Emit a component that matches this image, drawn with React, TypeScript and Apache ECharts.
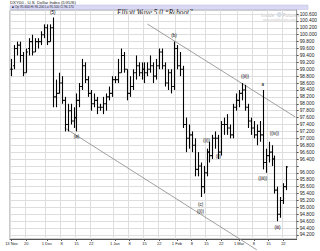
import { useEffect, useRef } from 'react';
import * as echarts from 'echarts';

const dates = [
  'Nov 13', 'Nov 16', 'Nov 17', 'Nov 18', 'Nov 19', 'Nov 20', 'Nov 23', 'Nov 24', 'Nov 25', 'Nov 26', 'Nov 27', 'Nov 30',
  'Dec 1', 'Dec 2', 'Dec 3', 'Dec 4', 'Dec 7', 'Dec 8', 'Dec 9', 'Dec 10', 'Dec 11', 'Dec 14', 'Dec 15', 'Dec 16', 'Dec 17', 'Dec 18', 'Dec 21', 'Dec 22', 'Dec 23', 'Dec 24', 'Dec 25', 'Dec 28', 'Dec 29', 'Dec 30', 'Dec 31',
  'Jan 1', 'Jan 4', 'Jan 5', 'Jan 6', 'Jan 7', 'Jan 8', 'Jan 11', 'Jan 12', 'Jan 13', 'Jan 14', 'Jan 15', 'Jan 18', 'Jan 19', 'Jan 20', 'Jan 21', 'Jan 22', 'Jan 25', 'Jan 26', 'Jan 27', 'Jan 28', 'Jan 29',
  'Feb 1', 'Feb 2', 'Feb 3', 'Feb 4', 'Feb 5', 'Feb 8', 'Feb 9', 'Feb 10', 'Feb 11', 'Feb 12', 'Feb 15', 'Feb 16', 'Feb 17', 'Feb 18', 'Feb 19', 'Feb 22', 'Feb 23', 'Feb 24', 'Feb 25', 'Feb 26', 'Feb 29',
  'Mar 1', 'Mar 2', 'Mar 3', 'Mar 4', 'Mar 7', 'Mar 8', 'Mar 9', 'Mar 10', 'Mar 11', 'Mar 14', 'Mar 15', 'Mar 16', 'Mar 17', 'Mar 18', 'Mar 21', 'Mar 22', 'Mar 23',
];
const futureDates = ['Mar 24', 'Mar 25', 'Mar 28'];

const opens = [
  99.0, 99.1, 99.6, 99.7, 99.4, 98.9, 99.6, 99.8, 99.5, 99.8, 99.8, 100.0,
  100.2, 99.8, 100.2, 98.2, 98.3, 98.6, 98.1, 97.4, 97.8, 97.5, 97.6, 98.1, 98.5, 99.1, 98.7, 98.3, 98.0, 98.1, 97.9, 97.9, 98.0, 98.2, 98.3,
  98.7, 98.7, 98.9, 99.4, 99.0, 98.3, 98.5, 98.9, 99.1, 98.9, 99.0, 98.9, 99.0, 99.1, 98.8, 99.1, 99.5, 99.1, 98.6, 98.9, 98.5,
  99.6, 99.1, 99.0, 97.4, 97.0, 97.1, 96.8, 96.1, 96.2, 95.6, 96.0, 96.6, 96.5, 97.0, 97.0, 96.6, 97.4, 97.4, 97.3, 97.1, 97.9,
  98.1, 98.3, 98.4, 97.9, 97.5, 97.3, 97.1, 97.2, 97.1, 96.3, 96.5, 96.6, 96.4, 95.5, 94.8, 95.2, 95.6,
];
const highs = [
  99.3, 99.7, 99.8, 99.8, 99.5, 99.6, 99.9, 100.0, 99.9, 99.9, 100.1, 100.3,
  100.3, 100.3, 100.5, 98.7, 98.9, 98.8, 98.2, 98.0, 98.0, 97.9, 98.3, 98.6, 99.3, 99.2, 98.8, 98.4, 98.3, 98.2, 98.0, 98.2, 98.3, 98.5, 98.8,
  98.8, 99.3, 99.6, 99.5, 99.0, 98.8, 99.0, 99.4, 99.2, 99.2, 99.2, 99.2, 99.4, 99.2, 99.3, 99.6, 99.6, 99.2, 99.0, 99.0, 99.8,
  99.7, 99.5, 99.1, 97.6, 97.4, 97.2, 97.0, 96.6, 96.3, 96.2, 96.7, 96.9, 97.1, 97.2, 97.1, 97.5, 97.6, 97.7, 97.4, 98.0, 98.3,
  98.4, 98.6, 98.55, 98.0, 97.6, 97.5, 97.4, 97.5, 98.4, 96.7, 96.9, 96.8, 96.5, 95.6, 95.3, 95.7, 96.2,
];
const lows = [
  98.8, 99.0, 99.4, 99.2, 98.8, 98.9, 99.4, 99.4, 99.5, 99.6, 99.7, 99.9,
  99.7, 99.8, 97.9, 97.9, 98.3, 98.0, 97.2, 97.2, 97.4, 97.3, 97.2, 97.9, 98.4, 98.6, 98.2, 97.8, 97.9, 97.7, 97.8, 97.7, 97.8, 98.1, 98.2,
  98.6, 98.6, 98.9, 98.9, 98.1, 98.2, 98.4, 98.7, 98.8, 98.7, 98.6, 98.8, 98.9, 98.6, 98.7, 99.0, 99.0, 98.5, 98.4, 98.3, 98.4,
  99.0, 98.8, 97.3, 96.6, 96.7, 96.6, 95.9, 95.9, 95.3, 95.4, 95.9, 96.3, 96.4, 96.7, 96.4, 96.5, 97.1, 97.1, 97.0, 97.0, 97.8,
  97.9, 98.1, 97.8, 97.3, 97.1, 97.0, 96.8, 96.9, 96.1, 96.0, 96.3, 96.2, 95.4, 94.6, 94.7, 95.1, 95.5,
];
const closes = [
  99.0, 99.6, 99.7, 99.4, 98.9, 99.5, 99.8, 99.5, 99.8, 99.8, 100.0, 100.2,
  99.8, 100.2, 98.2, 98.3, 98.6, 98.1, 97.4, 97.8, 97.5, 97.6, 98.1, 98.5, 99.1, 98.7, 98.3, 98.0, 98.1, 97.9, 97.9, 98.0, 98.2, 98.3, 98.7,
  98.7, 98.9, 99.4, 99.0, 98.3, 98.5, 98.9, 99.1, 98.9, 99.0, 98.9, 99.0, 99.1, 98.8, 99.1, 99.5, 99.1, 98.6, 98.9, 98.5, 99.6,
  99.1, 99.0, 97.4, 97.0, 97.1, 96.8, 96.1, 96.2, 95.6, 96.0, 96.6, 96.5, 97.0, 97.0, 96.6, 97.4, 97.4, 97.3, 97.1, 97.9, 98.1,
  98.3, 98.4, 97.9, 97.5, 97.3, 97.1, 97.2, 97.1, 96.3, 96.5, 96.6, 96.4, 95.5, 94.8, 95.2, 95.6, 96.17,
];

const xTickLabels: Record<string, string> = {
  'Nov 13': '13 Nov', 'Nov 20': '20', 'Dec 1': '1 Dec', 'Dec 8': '8', 'Dec 15': '15', 'Dec 22': '22',
  'Jan 1': '1 Jan', 'Jan 8': '8', 'Jan 15': '15', 'Jan 22': '22', 'Feb 1': '1 Feb', 'Feb 8': '8',
  'Feb 15': '15', 'Feb 22': '22', 'Mar 1': '1 Mar', 'Mar 8': '8', 'Mar 15': '15', 'Mar 22': '22',
};

const yTickValues = [
  94.2, 94.4, 94.6, 94.8, 95.0, 95.2, 95.4, 95.6, 95.8, 96.0, 96.2, 96.4, 96.6, 96.8, 97.0, 97.2, 97.4,
  97.6, 97.8, 98.0, 98.2, 98.4, 98.6, 98.8, 99.0, 99.2, 99.4, 99.6, 99.8, 100.0, 100.2, 100.4, 100.6,
];

const upperTrend = [
  { date: 'Jan 18', value: 100.31 },
  { date: 'Mar 28', value: 97.62 },
];
const lowerTrend = [
  { date: 'Dec 9', value: 97.3 },
  { date: 'Mar 9', value: 93.77 },
];

const waveLabels = [
  { date: 'Dec 3', value: 100.63, text: '(5)' },
  { date: 'Dec 15', value: 97.05, text: '(a)' },
  { date: 'Jan 29', value: 99.97, text: '(b)' },
  { date: 'Feb 11', value: 95.08, text: '(c)' },
  { date: 'Feb 11', value: 94.88, text: '((i))' },
  { date: 'Feb 15', value: 96.95, text: '((i))' },
  { date: 'Feb 19', value: 96.48, text: '(ii)' },
  { date: 'Mar 3', value: 98.8, text: '((ii))' },
  { date: 'Mar 11', value: 98.56, text: 'a' },
  { date: 'Mar 11', value: 95.85, text: '((iii))' },
  { date: 'Mar 17', value: 97.15, text: '((iv))' },
  { date: 'Mar 18', value: 94.42, text: '(iii)' },
];

export default function App() {
  const ref = useRef<HTMLDivElement>(null);
  useEffect(() => {
    const el = ref.current!;
    const chart = echarts.init(el, undefined, { renderer: 'svg' });
    const cats = [...dates, ...futureDates];
    const ohlc = dates.map((d, i) => [i, opens[i], highs[i], lows[i], closes[i]]);
    const isTick = (_i: number, v: string) => v in xTickLabels;
    const last = closes[closes.length - 1];
    const labelValues = yTickValues.filter((v) => Math.abs(v - last) > 0.1);

    chart.setOption({
      animation: false,
      backgroundColor: '#ffffff',
      textStyle: { fontFamily: 'Liberation Sans, Arial, sans-serif' },
      grid: { left: 10, right: 12, top: 10, bottom: 12, show: true, borderColor: '#9a9a9a', borderWidth: 1 },
      xAxis: {
        type: 'category',
        data: cats,
        boundaryGap: true,
        axisLine: { lineStyle: { color: '#555', width: 1 } },
        axisTick: { show: true, interval: isTick, alignWithLabel: true, length: 2, lineStyle: { color: '#555' } },
        axisLabel: {
          interval: isTick,
          formatter: (v: string) => xTickLabels[v] ?? '',
          fontSize: 4,
          color: '#222',
          margin: 2,
        },
        splitLine: { show: true, interval: isTick, lineStyle: { color: '#dedede', width: 1 } },
      },
      yAxis: {
        type: 'value',
        position: 'right',
        min: 94.084,
        max: 100.716,
        axisLine: { show: true, lineStyle: { color: '#9a9a9a' } },
        axisTick: { show: true, customValues: yTickValues, length: 2, lineStyle: { color: '#555' } },
        axisLabel: {
          customValues: labelValues,
          formatter: (v: number) => v.toFixed(3),
          fontSize: 4.8,
          color: '#222',
          margin: 3,
        },
        splitLine: { show: true, lineStyle: { color: '#dedede', width: 1 } },
      },
      graphic: [
        { type: 'text', left: 10, top: 0.5, style: { text: 'DXY00 - U.S. Dollar Index (DXUS)', fontSize: 4.3, fill: '#222', fontFamily: 'Liberation Sans' } },
        { type: 'rect', shape: { x: 10, y: 5, width: 298, height: 4.5 }, style: { fill: '#d9d9f3', stroke: '#b9b9e2', lineWidth: 0.5 } },
        { type: 'text', left: 12, top: 5.6, style: { text: '■ Op 95.600 Hi 96.200 Lo 95.500 Cl 96.170', fontSize: 3.2, fill: '#223', fontFamily: 'Liberation Sans' } },
        { type: 'text', left: 117, top: 9.8, style: { text: 'Elliott Wave 5.0 “Reboot”', fontSize: 7.2, fontStyle: 'italic', fill: '#1a1a1a', fontFamily: 'Liberation Serif' } },
        { type: 'text', left: 261, top: 12.2, style: { text: 'Inside', fontSize: 5, fill: '#c4c4c4', fontFamily: 'Liberation Sans' } },
        { type: 'circle', shape: { cx: 279.2, cy: 14.6, r: 2.2 }, style: { fill: '#d6e2ee', stroke: '#b8c8d8', lineWidth: 0.5 } },
        { type: 'text', left: 282.5, top: 12.2, style: { text: 'Futures', fontSize: 5, fill: '#c4c4c4', fontFamily: 'Liberation Sans' } },
        { type: 'text', left: 263, top: 18.4, style: { text: 'www.insidefutures.com', fontSize: 3.2, fill: '#c8c8c8', fontFamily: 'Liberation Sans' } },
      ],
      series: [
        {
          type: 'custom',
          name: 'DXY00',
          data: ohlc,
          encode: { x: 0, y: [1, 2, 3, 4] },
          renderItem: (_p: any, api: any) => {
            const i = api.value(0);
            const o = api.coord([i, api.value(1)]);
            const h = api.coord([i, api.value(2)]);
            const l = api.coord([i, api.value(3)]);
            const c = api.coord([i, api.value(4)]);
            const x = Math.round(h[0]) + 0.5;
            const st = { stroke: '#000', lineWidth: 1.1 };
            return {
              type: 'group',
              children: [
                { type: 'line', shape: { x1: x, y1: h[1], x2: x, y2: l[1] }, style: st },
                { type: 'line', shape: { x1: x - 1.4, y1: o[1], x2: x, y2: o[1] }, style: st },
                { type: 'line', shape: { x1: x, y1: c[1], x2: x + 1.4, y2: c[1] }, style: st },
              ],
            };
          },
          markLine: {
            silent: true,
            symbol: 'none',
            data: [{ yAxis: last }],
            lineStyle: { opacity: 0 },
            label: {
              position: 'end',
              distance: 3,
              formatter: () => last.toFixed(3),
              backgroundColor: '#333',
              color: '#fff',
              fontSize: 4.8,
              padding: [0.5, 1],
            },
          },
          z: 3,
        },
        {
          type: 'line',
          name: 'upper',
          data: upperTrend.map((p) => [p.date, p.value]),
          symbol: 'none',
          clip: false,
          lineStyle: { color: '#888', width: 0.8 },
          z: 2,
        },
        {
          type: 'line',
          name: 'lower',
          data: lowerTrend.map((p) => [p.date, p.value]),
          symbol: 'none',
          clip: false,
          lineStyle: { color: '#888', width: 0.8 },
          z: 2,
        },
        {
          type: 'scatter',
          name: 'waves',
          data: waveLabels.map((w) => ({ value: [w.date, w.value], name: w.text })),
          symbolSize: 0,
          itemStyle: { opacity: 1 },
          label: {
            show: true,
            position: 'inside',
            formatter: (p: any) => p.name,
            fontSize: 4.5,
            color: '#000',
            opacity: 1,
            fontFamily: 'Liberation Sans',
          },
          z: 4,
        },
      ],
    });
    return () => chart.dispose();
  }, []);
  return <div ref={ref} style={{ position: 'fixed', left: 0, top: 0, width: 320, height: 251 }} />;
}
